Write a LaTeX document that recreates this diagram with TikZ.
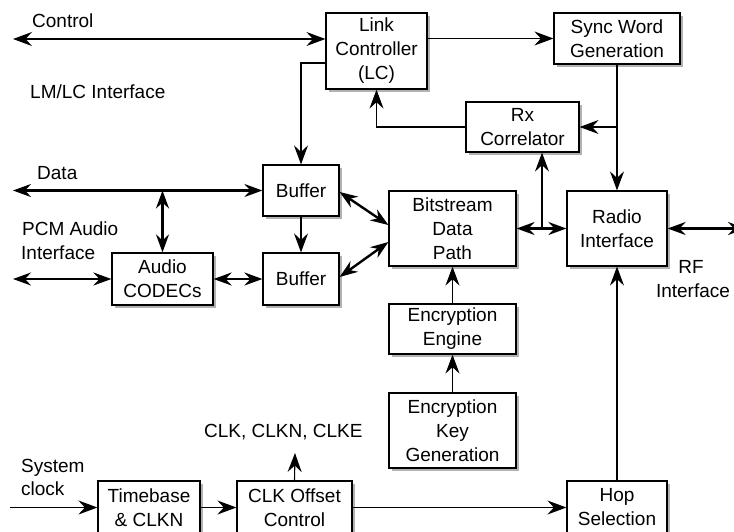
\documentclass[tikz,border=0pt]{standalone}
\usepackage{fontspec}
\setmainfont{Liberation Sans}
\usetikzlibrary{arrows.meta,shadows}
\begin{document}
\begin{tikzpicture}[x=1pt,y=-1pt,
  every node/.style={font=\fontsize{19}{24}\selectfont, inner sep=0pt},
  blk/.style={draw=black, line width=1.2pt, fill=white, align=center,
    drop shadow={shadow xshift=2.5pt, shadow yshift=-2.5pt, fill=black, opacity=0.3}},
  conn/.style={line width=1.1pt, -{Stealth[length=19pt,width=14pt,inset=6.5pt]}},
  connboth/.style={line width=1.1pt, {Stealth[length=19pt,width=14pt,inset=6.5pt]}-{Stealth[length=19pt,width=14pt,inset=6.5pt]}},
  bus/.style={line width=2.4pt, {Stealth[length=18pt,width=13pt,inset=6pt]}-{Stealth[length=18pt,width=13pt,inset=6pt]}},
  lbl/.style={anchor=base west}
]
\useasboundingbox (0,0) rectangle (734,531);
\clip (0,0) rectangle (734,531);
\fill[white] (0,0) rectangle (734,531);

% blocks
\node[blk, minimum width=101pt, minimum height=76pt] (lc) at (376.5,51) {Link\\Controller\\(LC)};
\node[blk, minimum width=126pt, minimum height=51pt] (sync) at (617,38.5) {Sync Word\\Generation};
\node[blk, minimum width=113pt, minimum height=50pt] (rx) at (522.5,127) {Rx\\Correlator};
\node[blk, minimum width=76pt, minimum height=51pt] (buf1) at (301,190.5) {Buffer};
\node[blk, minimum width=76pt, minimum height=52pt] (buf2) at (301,279) {Buffer};
\node[blk, minimum width=101pt, minimum height=52pt] (codec) at (162.5,279) {Audio\\CODECs};
\node[blk, minimum width=127pt, minimum height=75pt] (bit) at (452.5,228.5) {Bitstream\\Data\\Path};
\node[blk, minimum width=100pt, minimum height=75pt] (radio) at (617,228.5) {Radio\\Interface};
\node[blk, minimum width=127pt, minimum height=50pt] (eng) at (452.5,329) {Encryption\\Engine};
\node[blk, minimum width=127pt, minimum height=75pt] (key) at (452.5,430.5) {Encryption\\Key\\Generation};
\node[blk, minimum width=102pt, minimum height=53pt] (time) at (149,507.5) {Timebase\\\& CLKN};
\node[blk, minimum width=115pt, minimum height=53pt] (clkoff) at (294.5,507.5) {CLK Offset\\Control};
\node[blk, minimum width=100pt, minimum height=53pt] (hop) at (617,507.5) {Hop\\Selection};

% free labels
\node[lbl] (tctrl) at (32,27) {Control};
\node[lbl] (tlmlc) at (30,98) {LM/LC Interface};
\node[lbl] (tdata) at (37,179) {Data};
\node[lbl] (tpcm1) at (22,235) {PCM Audio};
\node[lbl] (tpcm2) at (21,259) {Interface};
\node[anchor=base] (trf1) at (691,273) {RF};
\node[anchor=base] (trf2) at (693,297) {Interface};
\node[lbl] (tclk) at (204,437) {CLK, CLKN, CLKE};
\node[lbl] (tsys1) at (21,472) {System};
\node[lbl] (tsys2) at (21,495) {clock};

% free line ends
\coordinate (ctrlL) at (13,39);
\coordinate (dataL) at (13,190.5);
\coordinate (pcmL) at (13,279);
\coordinate (rfR) at (746,228.5);
\coordinate (sysL) at (10,507.5);
\coordinate (clkout) at (295,453);
\coordinate (jn) at (542,228.5);
\coordinate (dj) at (162.5,190.5);

% control paths
\draw[connboth] (ctrlL) -- (lc.west |- ctrlL);
\draw[conn] (lc.east |- sync.west) -- (sync.west);
\draw[conn] ([yshift=-12pt]lc.west) -| (buf1.north);
\draw[conn] (rx.west) -| (lc.south);
\draw[conn] (sync.south) -- (radio.north);
\draw[conn] (sync.south |- rx.east) -- (rx.east);
\draw[conn] (jn) -- (jn |- rx.south);
\draw[conn] (buf1.south) -- (buf2.north);
\draw[conn] (eng.north) -- (bit.south);
\draw[conn] (key.north) -- (eng.south);
\draw[conn] (hop.north) -- (radio.south);
\draw[conn] (sysL) -- (time.west);
\draw[conn] (time.east) -- (clkoff.west);
\draw[conn] (clkoff.east) -- (hop.west);
\draw[conn] (clkoff.north) -- (clkout);

% data paths
\draw[bus] (dataL) -- (buf1.west);
\draw[bus] (dj) -- (codec.north);
\draw[bus] (pcmL) -- (codec.west);
\draw[bus] (codec.east) -- (buf2.west);
\draw[bus] ([yshift=-1.5pt]buf1.east) -- ([yshift=3.5pt]bit.west);
\draw[bus] ([yshift=2pt]buf2.east) -- ([yshift=-13.5pt]bit.west);
\draw[bus] (bit.east) -- (radio.west);
\draw[bus] (radio.east) -- (rfR);
\end{tikzpicture}
\end{document}
